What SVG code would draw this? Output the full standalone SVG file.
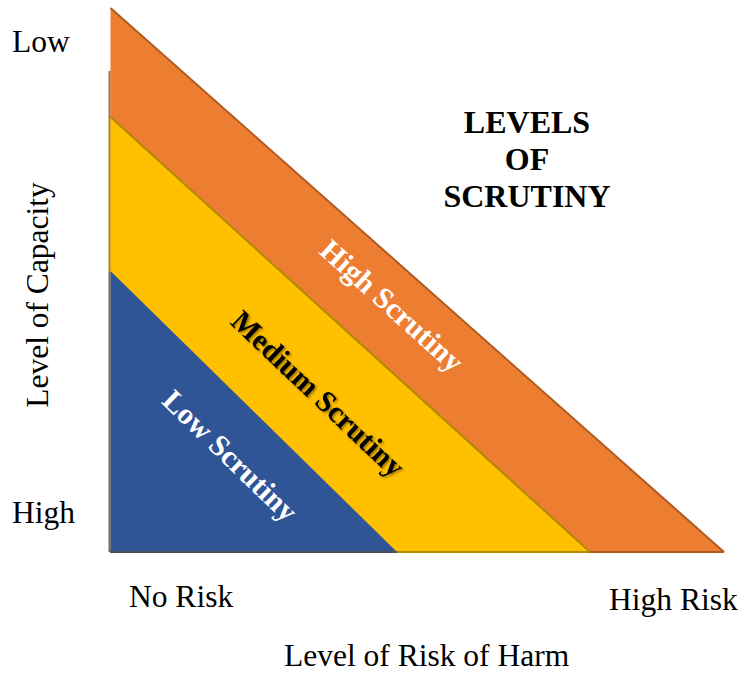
<svg xmlns="http://www.w3.org/2000/svg" width="743" height="673" viewBox="0 0 743 673">
  <defs>
    <style>
      .axis { font-family: "Liberation Serif", "Times New Roman", serif; font-size: 31.5px; fill: #000; }
      .title { font-family: "Liberation Serif", "Times New Roman", serif; font-size: 32px; font-weight: bold; fill: #000; text-anchor: middle; }
      .band { font-family: "Liberation Serif", "Times New Roman", serif; font-size: 30px; font-weight: bold; text-anchor: middle; }
    </style>
    <filter id="soft-shadow" x="-10%" y="-10%" width="120%" height="120%">
      <feDropShadow dx="1.5" dy="1.5" stdDeviation="1" flood-color="#000" flood-opacity="0.4"/>
    </filter>
  </defs>
  <rect width="743" height="673" fill="#fff"/>

  <!-- High scrutiny band (largest triangle) -->
  <g id="high-band">
    <polygon points="110.5,8 724,552 110.5,552" fill="#ED7D31"/>
    <line x1="110.5" y1="8" x2="724" y2="552" stroke="#AE5A21" stroke-width="2"/>
    <text class="band" fill="#fff" transform="translate(390,308) rotate(42)" y="7">High Scrutiny</text>
  </g>

  <!-- Medium scrutiny band -->
  <g id="medium-band">
    <polygon points="110.5,117 590,552 110.5,552" fill="#FFC000"/>
    <line x1="110.5" y1="117" x2="590" y2="552" stroke="#B08A00" stroke-width="2"/>
    <g filter="url(#soft-shadow)">
      <text class="band" fill="#000" transform="translate(316,396) rotate(43.5)" y="7">Medium Scrutiny</text>
    </g>
  </g>

  <!-- Low scrutiny band -->
  <g id="low-band">
    <polygon points="110.5,271 397,552 110.5,552" fill="#2F5597"/>
    <text class="band" fill="#fff" transform="translate(228,458) rotate(44)" y="7">Low Scrutiny</text>
  </g>

  <!-- Axis edges -->
  <g id="connectors" fill="none" stroke-width="2">
    <line x1="109.5" y1="71" x2="109.5" y2="118" stroke="#B8692F"/>
    <line x1="109.5" y1="118" x2="109.5" y2="272" stroke="#B08A00"/>
    <line x1="109.5" y1="272" x2="109.5" y2="552" stroke="#6E6E6E"/>
    <line x1="110" y1="552" x2="397" y2="552" stroke="#4A4F5A"/>
    <line x1="397" y1="552" x2="590" y2="552" stroke="#B08A00"/>
    <line x1="590" y1="552" x2="724" y2="552" stroke="#AE5A21"/>
  </g>

  <!-- Title -->
  <g id="title">
    <text class="title" x="527" y="133">LEVELS</text>
    <text class="title" x="527" y="170">OF</text>
    <text class="title" x="527" y="207">SCRUTINY</text>
  </g>

  <!-- Axis labels -->
  <g id="axis-labels">
    <text class="axis" x="12" y="52">Low</text>
    <text class="axis" x="12" y="523">High</text>
    <text class="axis" text-anchor="middle" transform="translate(48,295) rotate(-90)">Level of Capacity</text>
    <text class="axis" x="129" y="607">No Risk</text>
    <text class="axis" x="609" y="610">High Risk</text>
    <text class="axis" x="284" y="666">Level of Risk of Harm</text>
  </g>
</svg>
